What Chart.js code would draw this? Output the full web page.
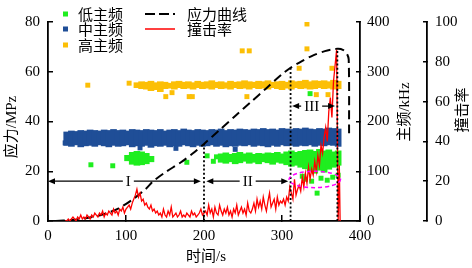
<!DOCTYPE html>
<html>
<head>
<meta charset="utf-8">
<script src="https://cdn.jsdelivr.net/npm/chart.js@4.4.1/dist/chart.umd.min.js"></script>
<style>
html, body { margin: 0; padding: 0; background: #fff; }
</style>
</head>
<body>
<canvas id="chart" width="472" height="268"></canvas>
<script>
// axes
const timeTicks = [0, 100, 200, 300, 400];
const stressTicks = [0, 20, 40, 60, 80];
const freqTicks = [0, 100, 200, 300, 400];
const rateTicks = [0, 20, 40, 60, 80, 100];

// stress curve (MPa)
const stressT = [10, 30, 50, 70, 90, 110, 125, 135, 150, 170, 185, 200, 220, 240, 260, 280, 300, 311, 325, 340, 355, 365, 372, 378, 382.5, 385.5, 386];
const stressV = [0, 0.4, 1.2, 2.6, 5, 9, 12.8, 16, 19.5, 23.5, 27, 31, 36.6, 42.2, 47.8, 53.4, 59, 61.6, 64.2, 66.6, 68.3, 69, 69.2, 68.8, 67.6, 65, 35];

// hit rate, sampled every 2 s from t = 22
const rateStart = 22, rateStep = 2;
const rateV = [
  0, 0, 1, 0, 1, 2, 1, 0, 2, 1, 3, 1, 2, 1, 3, 2, 1, 3, 2, 4,
  3, 2, 4, 3, 5, 2, 4, 3, 5, 4, 3, 6, 4, 5, 3, 6, 5, 7, 4, 6,
  7, 8, 6, 9, 11, 13, 16, 12, 14, 10,
  11, 8, 9, 7, 6, 8, 5, 6, 4, 5,
  3, 4, 2, 6, 3, 2, 5, 3, 7, 2, 3, 4, 2, 3, 5, 2, 3, 2, 4, 3, 2, 5, 3, 4, 2, 3, 4, 6, 3, 4,
  5, 3, 8, 4, 6, 2, 7, 4, 3, 8, 5, 3, 6, 4, 7, 3, 5, 2, 6, 4, 8, 3, 5, 7, 4, 6, 3, 9, 5, 4,
  6, 9, 5, 11, 7, 10, 6, 12, 8, 5, 10, 14, 7, 9, 11, 6, 12, 8, 10, 9,
  11, 8, 12, 10, 17, 14, 11, 21, 13, 16,
  18, 15, 22, 17, 24, 19, 27, 21, 26, 23,
  30, 25, 33, 28, 38, 34, 42, 47, 40, 55,
  62, 52, 70, 78, 86
];
const rateTailT = [372, 373.5, 374.5];
const rateTailV = [0, 28, 0];

// mid frequency band (kHz), columns every 6 s from t = 24
const midStart = 24;
const midHi = [179, 181, 180, 182, 181, 183, 182, 181, 183, 182, 184, 182, 183, 181, 184, 183, 182, 184, 183, 182,
  184, 181, 183, 184, 182, 185, 183, 182, 184, 183, 182, 184, 183, 185, 182, 184, 183, 185, 184, 183,
  185, 184, 186, 184, 185, 183, 186, 185, 184, 186, 185, 187, 185, 184, 186, 185, 187, 186, 185];
const midLo = [152, 150, 153, 149, 151, 152, 150, 153, 151, 149, 152, 150, 151, 153, 149, 151, 150, 152, 148, 151,
  150, 152, 149, 151, 150, 153, 151, 149, 152, 150, 151, 153, 150, 152, 149, 151, 150, 152, 151, 153,
  150, 152, 151, 149, 152, 150, 153, 151, 152, 150, 152, 151, 153, 150, 152, 151, 153, 152, 150];
const midDots = [[22, 157], [164, 146], [240, 144], [118, 147]];

// high frequency band (kHz), columns every 6 s from t = 114
const highStart = 114;
const highHi = [278, 280, 279, 281, 278, 280, 279, 277, 280, 281, 279, 280, 278, 281, 279, 280, 282, 279, 280, 278,
  281, 279, 280, 282, 280, 279, 281, 280, 282, 279, 280, 281, 279, 282, 280, 281, 283, 280, 282, 281,
  282, 280, 283, 281];
const highLo = [268, 266, 265, 262, 264, 260, 266, 267, 265, 268, 266, 267, 265, 268, 266, 267, 265, 268, 266, 267,
  265, 268, 266, 267, 265, 268, 266, 267, 265, 268, 266, 264, 267, 265, 268, 266, 267, 265, 266, 268,
  266, 267, 265, 266];
const highDots = [[51, 273], [104, 277], [151, 250], [159, 258], [181, 250], [185, 250], [249, 342], [258, 342],
  [255, 250], [322, 307], [332, 396], [332, 346], [344, 254], [359, 254], [364, 307]];

// low frequency (kHz): early cluster + band every 6 s from t = 222
const lowClusterT = [102, 108, 114, 120, 126, 132];
const lowClusterLo = [121, 114, 112, 113, 115, 119];
const lowClusterHi = [132, 138, 140, 139, 136, 130];
const lowStart = 222;
const lowHi = [135, 137, 134, 136, 138, 135, 137, 134, 136, 135, 137, 136, 138, 135, 139, 141, 138, 140, 142,
  143, 140, 144, 141, 143, 139, 141];
const lowLo = [118, 116, 119, 115, 117, 120, 116, 118, 115, 119, 117, 114, 118, 116, 113, 110, 112, 108, 105,
  100, 96, 102, 98, 104, 108, 112];
const lowDots = [[55, 113], [83, 111], [178, 118], [212, 120], [204, 131], [216, 129], [336, 256], [326, 90],
  [330, 84], [338, 80], [345, 56], [350, 86], [358, 82], [365, 88], [372, 92]];

// annotations (data units)
const phaseLines = [[200, 31], [311, 61.6], [371, 69]];
const phaseArrows = [
  { from: 0, to: 196, y: 16, label: 'I', at: 103 },
  { from: 203, to: 308, y: 16, label: 'II', at: 256 },
  { from: 313, to: 368, y: 46.2, label: 'III', at: 338 }
];
const focus = { t: 342, s: 16.7, dt: 33, ds: 3.3 };

const serif = "'Liberation Serif', 'Noto Sans CJK SC', serif";
const cjk = "'Noto Sans CJK SC', sans-serif";
const lowColor = '#1fee1f', midColor = '#1f4e97', highColor = '#fcbf06';

Chart.defaults.font.family = serif;
Chart.defaults.font.size = 15;
Chart.defaults.color = '#000';

const grid = (start, step, n) => Array.from({ length: n }, (_, i) => start + step * i);
const pts = (ts, vs) => ts.map((t, i) => ({ x: t, y: vs[i] }));
const band = (ts, lo, hi) => ts.map((t, i) => ({ x: t, y: [lo[i], hi[i]] }));
const dots = arr => arr.map(([t, f]) => ({ x: t, y: f }));
const tickList = arr => scale => { scale.ticks = arr.map(v => ({ value: v })); };

const rateT = grid(rateStart, rateStep, rateV.length).concat(rateTailT);

const bandOpts = color => ({
  type: 'bar', yAxisID: 'y1', backgroundColor: color, borderWidth: 0,
  barThickness: 6, stack: 'band', order: 5
});
const dotOpts = color => ({
  type: 'scatter', yAxisID: 'y1', backgroundColor: color, borderWidth: 0,
  pointStyle: 'rect', pointRadius: 3.5, order: 4
});

function arrowHead(ctx, x, y, dir) {
  ctx.beginPath();
  ctx.moveTo(x, y);
  ctx.lineTo(x - dir * 7, y - 3);
  ctx.lineTo(x - dir * 7, y + 3);
  ctx.closePath();
  ctx.fill();
}

const overlay = {
  id: 'overlay',
  afterDatasetsDraw(chart) {
    const { ctx, scales: { x, y } } = chart;
    ctx.save();
    // phase boundaries
    ctx.strokeStyle = '#000';
    ctx.lineWidth = 1.8;
    ctx.setLineDash([2, 2.2]);
    phaseLines.forEach(([t, top]) => {
      const px = x.getPixelForValue(t);
      ctx.beginPath();
      ctx.moveTo(px, y.getPixelForValue(0));
      ctx.lineTo(px, y.getPixelForValue(top));
      ctx.stroke();
    });
    // focus ellipse
    ctx.strokeStyle = '#ff00ff';
    ctx.lineWidth = 1.5;
    ctx.setLineDash([4, 3]);
    const cx = x.getPixelForValue(focus.t), cy = y.getPixelForValue(focus.s);
    const rx = x.getPixelForValue(focus.t + focus.dt) - cx;
    const ry = cy - y.getPixelForValue(focus.s + focus.ds);
    ctx.beginPath();
    ctx.ellipse(cx, cy, rx, ry, 0, 0, Math.PI * 2);
    ctx.stroke();
    // phase arrows
    ctx.setLineDash([]);
    ctx.strokeStyle = '#000';
    ctx.fillStyle = '#000';
    ctx.lineWidth = 1.3;
    phaseArrows.forEach(a => {
      const x1 = x.getPixelForValue(a.from), x2 = x.getPixelForValue(a.to), py = y.getPixelForValue(a.y);
      ctx.beginPath();
      ctx.moveTo(x1 + 4, py);
      ctx.lineTo(x2 - 4, py);
      ctx.stroke();
      arrowHead(ctx, x1, py, -1);
      arrowHead(ctx, x2, py, 1);
      ctx.font = '15px ' + serif;
      const w = ctx.measureText(a.label).width;
      const lx = x.getPixelForValue(a.at);
      ctx.fillStyle = '#fff';
      ctx.fillRect(lx - w / 2 - 3, py - 6, w + 6, 12);
      ctx.fillStyle = '#000';
      ctx.textAlign = 'center';
      ctx.textBaseline = 'middle';
      ctx.fillText(a.label, lx, py + 1);
    });
    ctx.restore();
  },
  afterDraw(chart) {
    const { ctx } = chart;
    ctx.save();
    // legend
    ctx.textAlign = 'left';
    ctx.textBaseline = 'middle';
    ctx.font = '15px ' + cjk;
    [[lowColor, '低主频', 14], [midColor, '中主频', 29], [highColor, '高主频', 45]].forEach(([c, txt, ly]) => {
      ctx.fillStyle = c;
      ctx.fillRect(63, ly - 2.5, 5, 5);
      ctx.fillStyle = '#000';
      ctx.fillText(txt, 78, ly);
    });
    ctx.lineWidth = 2;
    ctx.strokeStyle = '#000';
    ctx.setLineDash([10, 4]);
    ctx.beginPath(); ctx.moveTo(145, 14); ctx.lineTo(175, 14); ctx.stroke();
    ctx.setLineDash([]);
    ctx.strokeStyle = '#ff0000';
    ctx.lineWidth = 1.5;
    ctx.beginPath(); ctx.moveTo(145, 29); ctx.lineTo(175, 29); ctx.stroke();
    ctx.fillStyle = '#000';
    ctx.fillText('应力曲线', 187, 14);
    ctx.fillText('撞击率', 187, 29);
    // axis titles
    ctx.font = '15px ' + serif;
    ctx.textAlign = 'center';
    ctx.fillText('时间/s', 206, 257);
    [['应力/MPz', 12, 127], ['主频/kHz', 405, 112], ['撞击率', 463, 110]].forEach(([txt, tx, ty]) => {
      ctx.save();
      ctx.translate(tx, ty);
      ctx.rotate(-Math.PI / 2);
      ctx.fillText(txt, 0, 0);
      ctx.restore();
    });
    ctx.restore();
  }
};

const axisGrid = len => ({ drawOnChartArea: false, drawTicks: true, tickLength: len, color: '#000', lineWidth: 1.5 });
const axisBorder = { color: '#000', width: 1.8 };

new Chart(document.getElementById('chart'), {
  type: 'scatter',
  data: {
    datasets: [
      {
        type: 'line', label: '撞击率', yAxisID: 'y2', data: pts(rateT, rateV.concat(rateTailV)),
        borderColor: '#ff0000', borderWidth: 1.3, pointRadius: 0, tension: 0, showLine: true, order: 0
      },
      {
        type: 'line', label: '应力曲线', yAxisID: 'y', data: pts(stressT, stressV),
        borderColor: '#000', borderWidth: 2, borderDash: [9, 5], pointRadius: 0, tension: 0.3, showLine: true, order: 1
      },
      Object.assign({ label: '低主频', data: band(grid(lowStart, 6, lowHi.length), lowLo, lowHi) }, bandOpts(lowColor)),
      Object.assign({ label: '低主频', data: band(lowClusterT, lowClusterLo, lowClusterHi) }, bandOpts(lowColor)),
      Object.assign({ label: '中主频', data: band(grid(midStart, 6, midHi.length), midLo, midHi) }, bandOpts(midColor)),
      Object.assign({ label: '高主频', data: band(grid(highStart, 6, highHi.length), highLo, highHi) }, bandOpts(highColor)),
      Object.assign({ label: '低主频', data: dots(lowDots) }, dotOpts(lowColor)),
      Object.assign({ label: '中主频', data: dots(midDots) }, dotOpts(midColor)),
      Object.assign({ label: '高主频', data: dots(highDots) }, dotOpts(highColor))
    ]
  },
  options: {
    responsive: false,
    animation: false,
    devicePixelRatio: 1,
    layout: { padding: { top: 15, left: 0, right: 0, bottom: 0 } },
    plugins: { legend: { display: false }, tooltip: { enabled: false } },
    scales: {
      x: {
        type: 'linear', position: 'bottom', min: 0, max: 400, offset: false,
        grid: Object.assign(axisGrid(-6), { offset: false }), border: axisBorder,
        ticks: { padding: 12 },
        afterBuildTicks: tickList(timeTicks),
        afterFit: s => { s.height = 47; }
      },
      y: {
        type: 'linear', position: 'left', min: 0, max: 80,
        grid: axisGrid(-5), border: axisBorder,
        ticks: { padding: 13 },
        afterBuildTicks: tickList(stressTicks),
        afterFit: s => { s.width = 48; }
      },
      y1: {
        type: 'linear', position: 'right', min: 0, max: 400, stacked: false,
        grid: axisGrid(-4), border: axisBorder,
        ticks: { padding: 11 },
        afterBuildTicks: tickList(freqTicks),
        afterFit: s => { s.width = 67; }
      },
      y2: {
        type: 'linear', position: 'right', min: 0, max: 100,
        grid: axisGrid(-4), border: axisBorder,
        ticks: { padding: 12 },
        afterBuildTicks: tickList(rateTicks),
        afterFit: s => { s.width = 45; }
      }
    }
  },
  plugins: [overlay]
});
</script>
</body>
</html>
